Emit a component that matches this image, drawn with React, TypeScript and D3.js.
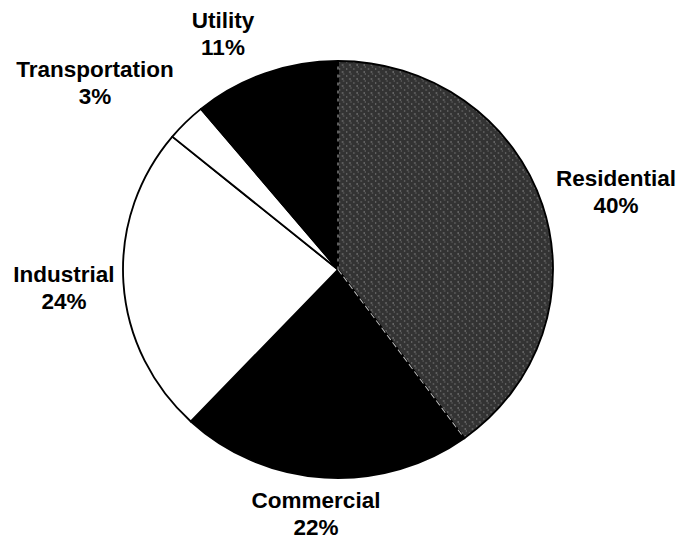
import React, { useEffect, useRef } from 'react';
import * as d3 from 'd3';

// share of total by sector, clockwise from 12 o'clock
const categories = ['Residential', 'Commercial', 'Industrial', 'Transportation', 'Utility'];
const shares = [40, 22, 24, 3, 11];

const WIDTH = 690;
const HEIGHT = 540;

export default function App() {
  const svgRef = useRef<SVGSVGElement>(null);

  useEffect(() => {
    const svg = d3.select(svgRef.current);
    svg.selectAll('*').remove();

    const data = categories.map((name, i) => ({ name, value: shares[i] }));

    // pie is slightly wider than tall in the scan
    const cx = 338;
    const cy = 269.5;
    const r = 208.5;
    const squeeze = 215 / 208.5;

    // speckled dark-grey fill for the residential wedge
    const defs = svg.append('defs');
    const pat = defs.append('pattern')
      .attr('id', 'stipple')
      .attr('width', 7)
      .attr('height', 7)
      .attr('patternUnits', 'userSpaceOnUse');
    pat.append('rect').attr('width', 7).attr('height', 7).attr('fill', '#333');
    pat.append('rect').attr('x', 1).attr('y', 2).attr('width', 1).attr('height', 1).attr('fill', '#a0a0a0');
    pat.append('rect').attr('x', 4).attr('y', 5).attr('width', 1).attr('height', 1).attr('fill', '#c4c4c4');
    pat.append('rect').attr('x', 5).attr('y', 0).attr('width', 1).attr('height', 1).attr('fill', '#808080');

    const fill = d3.scaleOrdinal<string, string>()
      .domain(categories)
      .range(['url(#stipple)', '#000', '#fff', '#fff', '#000']);

    const pie = d3.pie<{ name: string; value: number }>()
      .sort(null)
      .value(d => d.value);

    const arc = d3.arc<d3.PieArcDatum<{ name: string; value: number }>>()
      .innerRadius(0)
      .outerRadius(r);

    const arcs = pie(data);

    const g = svg.append('g')
      .attr('transform', `translate(${cx},${cy}) scale(${squeeze},1)`);

    g.selectAll('path.slice')
      .data(arcs)
      .join('path')
      .attr('class', 'slice')
      .attr('d', arc)
      .attr('fill', d => fill(d.data.name))
      .attr('stroke', '#000')
      .attr('stroke-width', 1.8)
      .attr('stroke-linejoin', 'round');

    // faint light edges on the grey wedge's radii
    const res = arcs[0];
    [res.startAngle, res.endAngle].forEach((a, i) => {
      g.append('line')
        .attr('x1', 0)
        .attr('y1', 0)
        .attr('x2', Math.sin(a) * (r - 2))
        .attr('y2', -Math.cos(a) * (r - 2))
        .attr('stroke', '#b8b8b8')
        .attr('stroke-width', 1)
        .attr('stroke-dasharray', i === 0 ? '3,5' : '6,3');
    });

    // label anchor points: centre x, first baseline y
    const labelAt: Record<string, [number, number]> = {
      Residential: [616, 186],
      Commercial: [316, 508],
      Industrial: [64, 282],
      Transportation: [95, 77],
      Utility: [223, 28],
    };

    const labels = svg.append('g')
      .attr('font-family', '"Liberation Sans", Arial, sans-serif')
      .attr('font-weight', 'bold')
      .attr('font-size', 22.5)
      .attr('fill', '#000')
      .attr('text-anchor', 'middle');

    data.forEach(d => {
      const [x, y] = labelAt[d.name];
      const t = labels.append('text');
      t.append('tspan').attr('x', x).attr('y', y).text(d.name);
      t.append('tspan').attr('x', x).attr('y', y + 27).text(`${d.value}%`);
    });
  }, []);

  return (
    <svg
      ref={svgRef}
      width={WIDTH}
      height={HEIGHT}
      style={{ position: 'absolute', left: 0, top: 0, background: '#fff', display: 'block' }}
    />
  );
}
